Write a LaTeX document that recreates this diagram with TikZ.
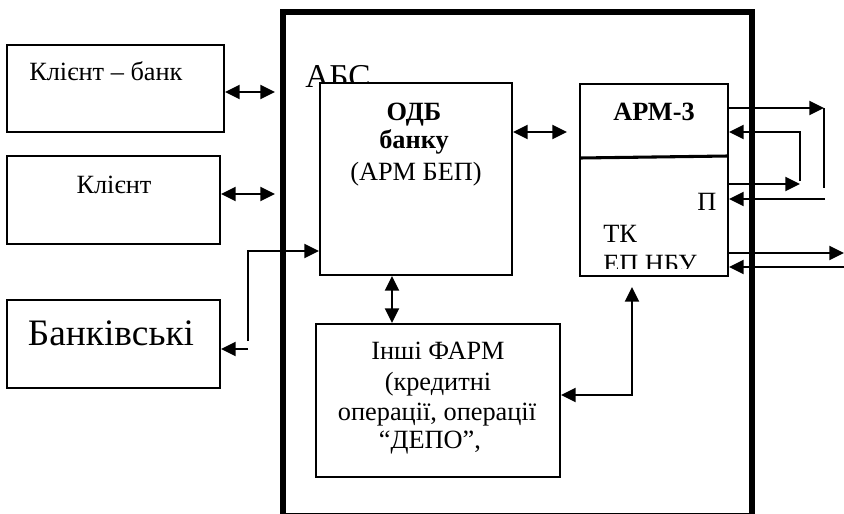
\documentclass[tikz,border=0pt]{standalone}
\usepackage{fontspec}
\setmainfont{Liberation Serif}
\usetikzlibrary{arrows.meta,fit}

\begin{document}
\begin{tikzpicture}[x=0.75pt,y=-0.75pt,
  box/.style={draw, line width=1.5pt, fill=white, inner sep=0pt},
  tip/.tip={Triangle[length=11pt,width=10.5pt]},
  conn/.style={line width=1.5pt, -tip},
  bidir/.style={line width=1.5pt, tip-tip},
  plain/.style={line width=1.5pt},
  txt/.style={inner sep=0pt, font=\fontsize{19.75pt}{22.5pt}\selectfont},
  bigtxt/.style={inner sep=0pt, font=\fontsize{28pt}{28pt}\selectfont},
  abstxt/.style={inner sep=0pt, font=\fontsize{25pt}{25pt}\selectfont},
]
\useasboundingbox (0,0) rectangle (844,514);

% outer frame of the banking system
\node[draw, line width=3.8pt, inner sep=0pt, fit={(283,12)(752,516)}] (abs) {};
\node[abstxt, anchor=base west] (abslabel) at (305,87) {АБС};

% external boxes
\node[box, fit={(7,45)(224,132)}] (kb) {};
\node[box, fit={(7,156)(220,244)}] (kl) {};
\node[box, fit={(7,300)(220,388)}] (bank) {};
\node[txt, anchor=base west] (kbtext) at (29,80) {Клієнт – банк};
\node[txt, anchor=base] (kltext) at (114,193) {Клієнт};
\node[bigtxt, anchor=base] (banktext) at (111,345) {Банківські};

% inner boxes
\node[box, fit={(320,83)(512,275)}] (odb) {};
\node[box, fit={(580,84)(728,276)}] (arm) {};
\node[box, fit={(316,324)(560,477)}] (farm) {};

% ODB text
\node[txt, anchor=base] (odb1) at (414,120) {\bfseries ОДБ};
\node[txt, anchor=base] (odb2) at (414,148) {\bfseries банку};
\node[txt, anchor=base] (odb3) at (416,180) {(АРМ БЕП)};

% ARM-3 text and divider
\draw[line width=2.3pt] (580,158) -- (728,156);
\node[txt, anchor=base] (arm1) at (654,120) {\bfseries АРМ-3};
\node[txt, anchor=base west] (arm2) at (697,210) {П};
\node[txt, anchor=base west] (arm3) at (603,242) {ТК};
\begin{scope}
  \clip (580,84) rectangle (728,268);
  \node[txt, anchor=base west] (arm4) at (603,272) {ЕП НБУ};
\end{scope}

% other workstations text
\node[txt, anchor=base] (farm1) at (438,359) {Інші ФАРМ};
\node[txt, anchor=base] (farm2) at (438,390) {(кредитні};
\node[txt, anchor=base] (farm3) at (437,420) {операції, операції};
\node[txt, anchor=base] (farm4) at (430,448) {“ДЕПО”,};

% free ends of connectors
\coordinate (f1) at (275,92);
\coordinate (f2) at (275,194);
\coordinate (b1) at (248,341);
\coordinate (b2) at (248,349);
\coordinate (a1) at (567,132);
\coordinate (a2) at (632,287);
\coordinate (r1) at (824,108);
\coordinate (r1b) at (824,188);
\coordinate (r2) at (800,184);
\coordinate (r2b) at (800,181);
\coordinate (r3) at (825,199);
\coordinate (r4) at (844,253);
\coordinate (r5) at (844,267);

% connectors on the left
\draw[bidir] (kb.east |- f1) -- (f1);
\draw[bidir] (kl.east |- f2) -- (f2);
\draw[conn] (b1) |- (odb.west |- 0,251);
\draw[conn] (b2) -- (bank.east |- b2);

% connectors between inner boxes
\draw[bidir] (odb.east |- a1) -- (a1);
\draw[bidir] (odb.south -| 392,0) -- (farm.north -| 392,0);
\draw[bidir] (farm.east |- 0,395) -| (a2);

% connectors on the right
\draw[conn] (arm.east |- r1) -- (r1);
\draw[plain] (r1) -- (r1b);
\draw[conn] (arm.east |- r2) -- (r2);
\draw[conn] (r2b) |- (arm.east |- 0,132);
\draw[conn] (r3) -- (arm.east |- r3);
\draw[conn] (arm.east |- r4) -- (r4);
\draw[conn] (r5) -- (arm.east |- r5);
\end{tikzpicture}
\end{document}
